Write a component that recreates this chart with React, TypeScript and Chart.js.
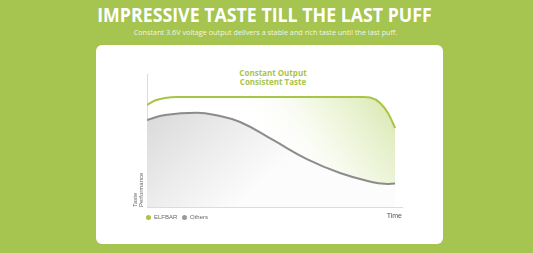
import React, { useEffect, useRef } from "react";
import { Chart, registerables } from "chart.js";

Chart.register(...registerables);

// ---- data ----
const seriesNames = ["ELFBAR", "Others"];
const elfbarX = [0, 3.1, 7.1, 11.8, 84.7, 87.5, 91.4, 94.5, 97.3];
const elfbarY = [76.7, 80.1, 82, 82.7, 82.7, 82.3, 78.2, 70.7, 59.4];
const othersX = [0, 7.1, 19.6, 26.7, 36.5, 49.4, 62.7, 75.7, 88.6, 93.3, 97.3];
const othersY = [65.4, 69.2, 70.9, 69.2, 63.9, 50.4, 36, 25.6, 18.6, 17.4, 17.7];
const yAxisTitle = ["Taste", "Performance"];
const xAxisTitle = "Time";
const heading = "IMPRESSIVE TASTE TILL THE LAST PUFF";
const subheading = "Constant 3.6V voltage output delivers a stable and rich taste until the last puff.";
const callout = ["Constant Output", "Consistent Taste"];

const BG = "#a5c450";
const GREEN = "#a8c545";
const GRAY = "#8c8c8c";

function toPoints(xs: number[], ys: number[]) {
  return xs.map((x, i) => ({ x, y: ys[i] }));
}

export default function App() {
  const ref = useRef<HTMLCanvasElement | null>(null);

  useEffect(() => {
    if (!ref.current) return;
    const chart = new Chart(ref.current, {
      type: "line",
      data: {
        datasets: [
          {
            label: seriesNames[1],
            data: toPoints(othersX, othersY),
            borderColor: GRAY,
            borderWidth: 2,
            pointRadius: 0,
            tension: 0.45,
            fill: "origin",
            backgroundColor: (c: any) => {
              const a = c.chart.chartArea;
              if (!a) return "#e5e5e5";
              const h = a.bottom - a.top;
              const g = c.chart.ctx.createLinearGradient(a.left, a.top + h * 0.28, a.left + (a.right - a.left) * 0.35, a.bottom);
              g.addColorStop(0, "#d9d9d9");
              g.addColorStop(0.5, "#ebebeb");
              g.addColorStop(1, "#fcfcfc");
              return g;
            },
          },
          {
            label: seriesNames[0],
            data: toPoints(elfbarX, elfbarY),
            borderColor: GREEN,
            borderWidth: 2,
            pointRadius: 0,
            cubicInterpolationMode: "monotone",
            fill: "origin",
            backgroundColor: (c: any) => {
              const a = c.chart.chartArea;
              if (!a) return "#eef5dc";
              const g = c.chart.ctx.createLinearGradient(a.right, a.top + 15, a.left + (a.right - a.left) * 0.45, a.bottom - 20);
              g.addColorStop(0, "rgba(178,206,95,0.6)");
              g.addColorStop(0.45, "rgba(215,232,170,0.35)");
              g.addColorStop(0.85, "rgba(255,255,255,0)");
              return g;
            },
          },
        ],
      },
      options: {
        animation: false,
        responsive: false,
        maintainAspectRatio: false,
        layout: { padding: { left: 13, right: 18, top: 9, bottom: 10 } },
        plugins: {
          legend: { display: false },
          tooltip: { enabled: false },
        },
        scales: {
          x: {
            type: "linear",
            min: 0,
            max: 100,
            grid: { display: false, drawTicks: false },
            border: { display: true, color: "#dcdcdc", width: 1 },
            ticks: { display: false },
            title: {
              display: true,
              text: xAxisTitle,
              align: "end",
              color: "#555",
              padding: 0,
              font: { family: "'Liberation Sans', Arial, sans-serif", size: 7 },
            },
            afterFit: (s: any) => {
              s.height = 13;
            },
          },
          y: {
            min: 0,
            max: 100,
            grid: { display: false, drawTicks: false },
            border: { display: true, color: "#dcdcdc", width: 1 },
            ticks: { display: false },
            title: {
              display: true,
              text: yAxisTitle,
              align: "start",
              color: "#666",
              padding: 0,
              font: { family: "'Liberation Sans', Arial, sans-serif", size: 6, lineHeight: 0.9 },
            },
            afterFit: (s: any) => {
              s.width = 14;
            },
          },
        },
      },
    } as any);
    return () => chart.destroy();
  }, []);

  const legendItem = (color: string, text: string, left: number) => (
    <div style={{ position: "absolute", left, top: 213, display: "flex", alignItems: "center", height: 8 }}>
      <span style={{ width: 5, height: 5, borderRadius: "50%", background: color, display: "inline-block", marginRight: 3 }} />
      <span style={{ font: "6px 'Liberation Sans', Arial, sans-serif", color: "#666", lineHeight: "8px" }}>{text}</span>
    </div>
  );

  return (
    <div style={{ position: "fixed", left: 0, top: 0, width: 533, height: 253, background: BG, overflow: "hidden" }}>
      <div
        style={{
          position: "absolute",
          left: 0,
          top: 3,
          width: 529,
          textAlign: "center",
          color: "#fff",
          font: "bold 19px 'Open Sans', sans-serif",
          lineHeight: "24px",
          transform: "scaleX(0.935)",
        }}
      >
        {heading}
      </div>
      <div
        style={{
          position: "absolute",
          left: 0,
          top: 27,
          width: 531,
          textAlign: "center",
          color: "#f2f6e6",
          font: "7.25px 'Open Sans', sans-serif",
          lineHeight: "10px",
        }}
      >
        {subheading}
      </div>
      <div style={{ position: "absolute", left: 96, top: 45, width: 347, height: 199, background: "#fff", borderRadius: 6 }} />
      <div
        style={{
          position: "absolute",
          left: 223,
          top: 68,
          width: 100,
          textAlign: "center",
          color: "#a9c44c",
          font: "bold 8px 'Open Sans', sans-serif",
          lineHeight: "9px",
        }}
      >
        {callout[0]}
        <br />
        {callout[1]}
      </div>
      <canvas ref={ref} width={300} height={165} style={{ position: "absolute", left: 120, top: 65, width: 300, height: 165 }} />
      {legendItem(GREEN, seriesNames[0], 146)}
      {legendItem("#9a9a9a", seriesNames[1], 182)}
    </div>
  );
}
